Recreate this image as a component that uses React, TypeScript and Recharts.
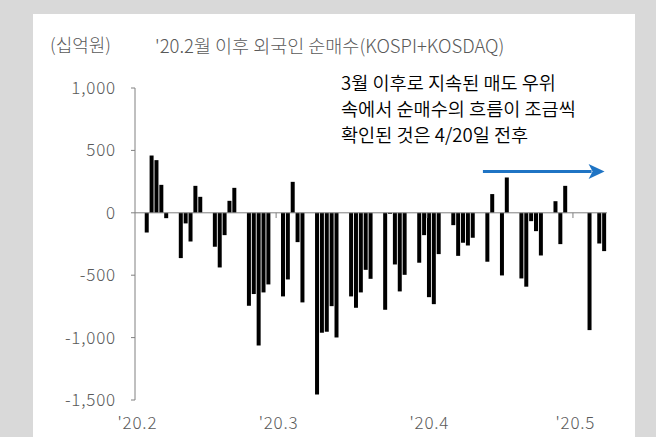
import { Bar, BarChart, ReferenceLine, XAxis, YAxis } from "recharts";

// 외국인 순매수 (십억원), 달력 일자 기준 — 주말/휴장일은 null
const FEB = [
  null, null, -158, 459, 422, 224, -43, null, null, -363, -85, -230, 216, 128,
  null, null, -272, -438, -179, 96, 200, null, null, -745, -651, -1063, -638, -574,
  null,
];
const MAR = [
  null, -670, -534, 248, -235, -718, null, null, -1455, -961, -953, -748, -999,
  null, null, -670, -761, -638, -457, -529, null, null, -777, -8, -414, -630, -497,
  null, null, -400, -179,
];
const APR = [
  -676, -732, -331, null, null, -99, -345, -240, -262, -200, null, null, -392, 150,
  null, -502, 283, null, null, -526, -592, -67, -147, -342, null, null, 93, -251,
  216, null,
];
const MAY = [null, null, null, -940, null, -246, -307];

const MONTHS = [
  { month: 2, values: FEB },
  { month: 3, values: MAR },
  { month: 4, values: APR },
  { month: 5, values: MAY },
];

const MONTH_TICKS = ["2-1", "3-1", "4-1", "5-1"];
const MONTH_LABELS = ["'20.2", "'20.3", "'20.4", "'20.5"];
const Y_TICKS = [-1500, -1000, -500, 0, 500, 1000];

const NOTE = [
  "3월 이후로 지속된 매도 우위",
  "속에서 순매수의 흐름이 조금씩",
  "확인된 것은 4/20일 전후",
];

const data = MONTHS.flatMap(({ month, values }) =>
  values.map((v, i) => ({ day: `${month}-${i + 1}`, net: v }))
);

const FONT = '"Noto Sans CJK KR", "Noto Sans", sans-serif';
const GRAY = "#595959";
const AXIS = "#808080";
const BLUE = "#1f74c4";

function Arrow(props: any) {
  const { x1, y1, x2, y2 } = props;
  const head = 16;
  return (
    <g>
      <line x1={x1} y1={y1} x2={x2 - head + 3} y2={y2} stroke={BLUE} strokeWidth={3} />
      <polygon
        points={`${x2},${y2} ${x2 - head},${y2 - 7.5} ${x2 - head + 4},${y2} ${x2 - head},${y2 + 7.5}`}
        fill={BLUE}
      />
    </g>
  );
}

const tickStyle = { fill: GRAY, fontSize: 17, fontFamily: FONT, fontWeight: 300, letterSpacing: 0.8 };

export default function App() {
  return (
    <div
      style={{
        position: "absolute",
        left: 0,
        top: 0,
        width: 656,
        height: 437,
        background: "#d9d9d9",
        fontFamily: FONT,
        fontWeight: 300,
        overflow: "hidden",
      }}
    >
      <div
        style={{ position: "absolute", left: 33, top: 14, width: 602, height: 423, background: "#fff" }}
      />
      <div style={{ position: "absolute", left: 0, top: 0 }}>
        <BarChart
          width={656}
          height={437}
          data={data}
          margin={{ top: 88, right: 49, left: 75, bottom: 7 }}
          barSize={4}
        >
          <XAxis
            dataKey="day"
            ticks={MONTH_TICKS}
            interval={0}
            tickFormatter={(d: string) => MONTH_LABELS[MONTH_TICKS.indexOf(d)]}
            axisLine={false}
            tickLine={false}
            tickSize={0}
            tickMargin={17}
            height={30}
            tick={tickStyle}
          />
          <YAxis
            domain={[-1500, 1000]}
            ticks={Y_TICKS}
            interval={0}
            width={60}
            tickSize={4}
            tickMargin={15}
            tickFormatter={(v: number) => v.toLocaleString("en-US")}
            axisLine={{ stroke: AXIS }}
            tickLine={{ stroke: AXIS }}
            tick={tickStyle}
          />
          <ReferenceLine y={0} stroke={AXIS} />
          {MONTH_TICKS.slice(1).map((m) => (
            <ReferenceLine
              key={m}
              position="start"
              segment={[
                { x: m, y: 0 },
                { x: m, y: -42 },
              ]}
              stroke={AXIS}
            />
          ))}
          <Bar dataKey="net" fill="#000" isAnimationActive={false} />
          <ReferenceLine
            segment={[
              { x: "4-12", y: 330 },
              { x: "5-7", y: 330 },
            ]}
            shape={<Arrow />}
          />
        </BarChart>
      </div>
      <div style={{ position: "absolute", left: 50, top: 31, fontSize: 18, lineHeight: "26px", color: GRAY }}>
        (십억원)
      </div>
      <div style={{ position: "absolute", left: 155, top: 32, fontSize: 18.5, lineHeight: "26px", color: GRAY, whiteSpace: "nowrap" }}>
        '20.2월 이후 외국인 순매수(KOSPI+KOSDAQ)
      </div>
      <div style={{ position: "absolute", left: 341, top: 69, fontSize: 18.6, fontWeight: 350, lineHeight: "26px", color: "#000" }}>
        {NOTE.map((line) => (
          <div key={line} style={{ whiteSpace: "nowrap" }}>
            {line}
          </div>
        ))}
      </div>
    </div>
  );
}
